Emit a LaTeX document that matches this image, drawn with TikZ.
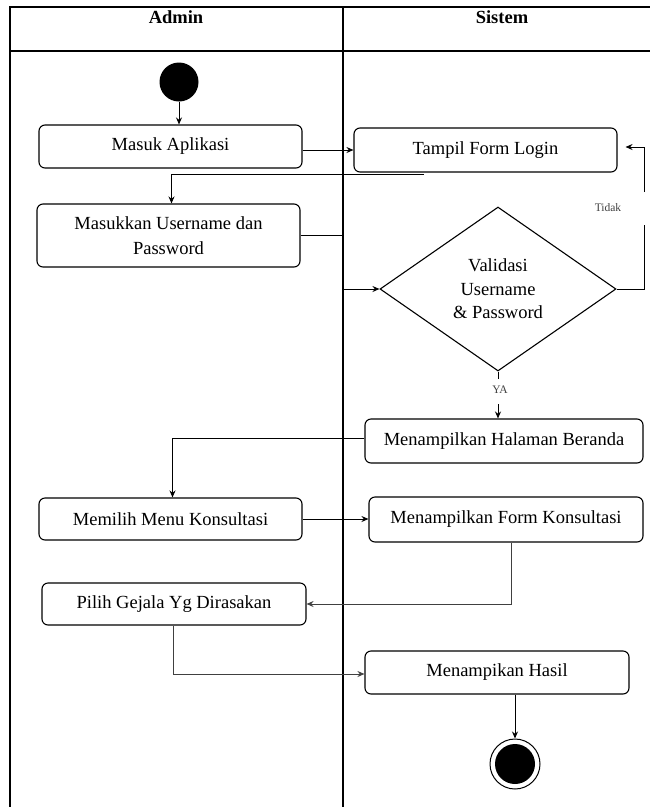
\documentclass[tikz,border=0pt]{standalone}
\usepackage{fontspec}
\setmainfont{Liberation Serif}
\usetikzlibrary{shapes.geometric,arrows.meta}
\begin{document}
\begin{tikzpicture}[x=1pt,y=-1pt,
  act/.style={draw,rounded corners=6pt,line width=1.1pt,inner sep=0pt,align=center,
    font=\fontsize{18.5}{25}\selectfont},
  lane/.style={line width=1.1pt},
  arr/.style={line width=1pt,-{Stealth[length=7pt,width=6pt]}},
  ln/.style={line width=1pt},
  lbl/.style={font=\fontsize{11.5}{13}\selectfont,text=black!75,inner sep=1pt},
  hdr/.style={font=\fontsize{18.5}{22}\selectfont\bfseries,inner sep=0pt}]
\useasboundingbox (0,0) rectangle (649,807);
% swimlanes
\draw[lane] (10,807) -- (10,7) -- (652,7);
\draw[lane] (10,51) -- (652,51);
\draw[lane] (343,7) -- (343,807);
\node[hdr] (hAdmin) at (176,17) {Admin};
\node[hdr] (hSistem) at (502,17) {Sistem};
% nodes
\node[circle,fill=black,minimum size=39pt,inner sep=0pt] (start) at (179,82) {};
\node[act,minimum width=263pt,minimum height=43pt] (masuk) at (170.5,146.5) {Masuk Aplikasi};
\node[act,minimum width=263pt,minimum height=63pt] (masukkan) at (168.5,235.5) {Masukkan Username dan\\Password};
\node[act,minimum width=263pt,minimum height=44pt] (tampil) at (485.5,150) {Tampil Form Login};
\node[diamond,draw,line width=1.1pt,minimum width=236pt,minimum height=164pt,inner sep=0pt,align=center,
  font=\fontsize{18.5}{23.5}\selectfont] (val) at (498,289) {Validasi\\Username\\\& Password};
\node[act,minimum width=278pt,minimum height=44pt] (beranda) at (504,441) {Menampilkan Halaman Beranda};
\node[act,minimum width=263pt,minimum height=42pt] (memilih) at (170.5,519) {Memilih Menu Konsultasi};
\node[act,minimum width=274pt,minimum height=45pt] (formk) at (506,519.5) {Menampilkan Form Konsultasi};
\node[act,minimum width=264pt,minimum height=42pt] (pilih) at (174,604) {Pilih Gejala Yg Dirasakan};
\node[act,minimum width=264pt,minimum height=43pt] (hasil) at (497,672.5) {Menampikan Hasil};
\node[circle,draw,line width=1pt,minimum size=50pt,inner sep=0pt] (end) at (515,764) {};
\node[circle,fill=black,minimum size=40pt,inner sep=0pt] (endin) at (515,764) {};
\coordinate (back) at (424,174);
\coordinate (tdA) at (644,225);
\coordinate (tdB) at (644,192);
% connectors
\draw[arr] (start) -- (start |- masuk.north);
\draw[arr] (masuk.east |- tampil.west) -- (tampil.west);
\draw[arr] (back) -| ([xshift=3pt]masukkan.north);
\draw[arr] (masukkan.east) -- ++(42,0) |- (val.west);
\draw[ln] (val.east) -| (tdA);
\draw[arr] (tdB) |- ([xshift=8pt,yshift=3pt]tampil.east);
\node[lbl] (tidak) at (608,208) {Tidak};
\draw[ln] (val.south) -- ++(0,7);
\node[lbl] (ya) at (500,390) {YA};
\draw[arr] ([yshift=14pt]val.south |- beranda.north) -- (val.south |- beranda.north);
\draw[arr] ([yshift=3pt]beranda.west) -| ([xshift=2pt]memilih.north);
\draw[arr] (memilih.east) -- (memilih.east -| formk.west);
\draw[arr,draw=black!75] ([xshift=5pt]formk.south) |- (pilih.east);
\draw[arr,draw=black!75] ([xshift=-1pt]pilih.south) |- ([yshift=-1.5pt]hasil.west);
\draw[arr] (end |- hasil.south) -- (end.north);
\end{tikzpicture}
\end{document}
